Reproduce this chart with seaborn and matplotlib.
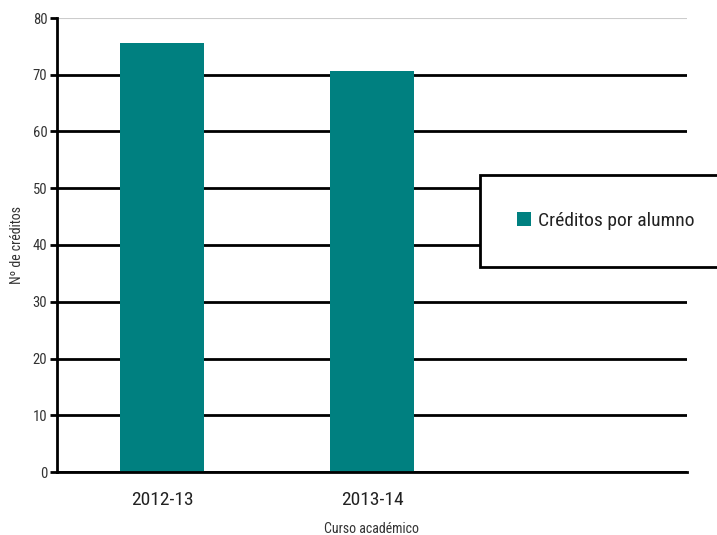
import matplotlib
matplotlib.use('Agg')
import matplotlib.pyplot as plt
import pandas as pd
import seaborn as sns

# Data
cursos = ['2012-13', '2013-14', '']
creditos = [75.6, 70.7]
serie = 'Créditos por alumno'

df = pd.DataFrame({'curso': cursos[:2], 'valor': creditos})

sns.set_style('white')
plt.rcParams['font.family'] = ['Roboto Condensed', 'DejaVu Sans']

fig = plt.figure(figsize=(7.17, 5.35), dpi=100)
ax = fig.add_axes([57 / 717, 63 / 535, 630 / 717, 454 / 535])

sns.barplot(data=df, x='curso', y='valor', color='#008080', width=0.4,
            saturation=1, label=serie, linewidth=0, ax=ax)

ax.set_xlim(-0.5, 2.5)
ax.set_ylim(0, 80)
ax.set_yticks(range(0, 81, 10))
ax.set_xticks(range(3))
ax.set_xticklabels(cursos, fontsize=14, color='#222222')
ax.set_xticks([-0.5, 0.5, 1.5, 2.5], minor=True)
ax.tick_params(axis='x', which='major', length=0, pad=14)
ax.tick_params(axis='x', which='minor', length=6, width=2, color='black', direction='out')
ax.tick_params(axis='y', length=5, width=2, color='black', labelsize=10.5,
               labelcolor='#333333', direction='out', left=True, pad=2)

# grid lines behind the bars
ax.set_axisbelow(True)
ax.yaxis.grid(True, color='black', linewidth=2)
ax.get_ygridlines()[-1].set_color('#cccccc')
ax.get_ygridlines()[-1].set_linewidth(1.5)

for s in ['top', 'right']:
    ax.spines[s].set_visible(False)
for s in ['left', 'bottom']:
    ax.spines[s].set_color('black')
    ax.spines[s].set_linewidth(2)

ax.set_xlabel('Curso académico', fontsize=10, color='#333333', labelpad=9)
ax.set_ylabel('Nº de créditos', fontsize=10, color='#333333', labelpad=6)

leg = ax.legend(loc='upper left', bbox_to_anchor=(480 / 717, (535 - 175) / 535, 0.5, 0.0),
                bbox_transform=fig.transFigure, mode='expand', fontsize=14,
                handlelength=0.7, handleheight=0.7, handletextpad=0.4,
                borderpad=1.9, fancybox=False, framealpha=1, borderaxespad=0)
leg.get_frame().set_edgecolor('black')
leg.get_frame().set_linewidth(2)
for t in leg.get_texts():
    t.set_color('#222222')

fig.savefig('out.png', dpi=100)
